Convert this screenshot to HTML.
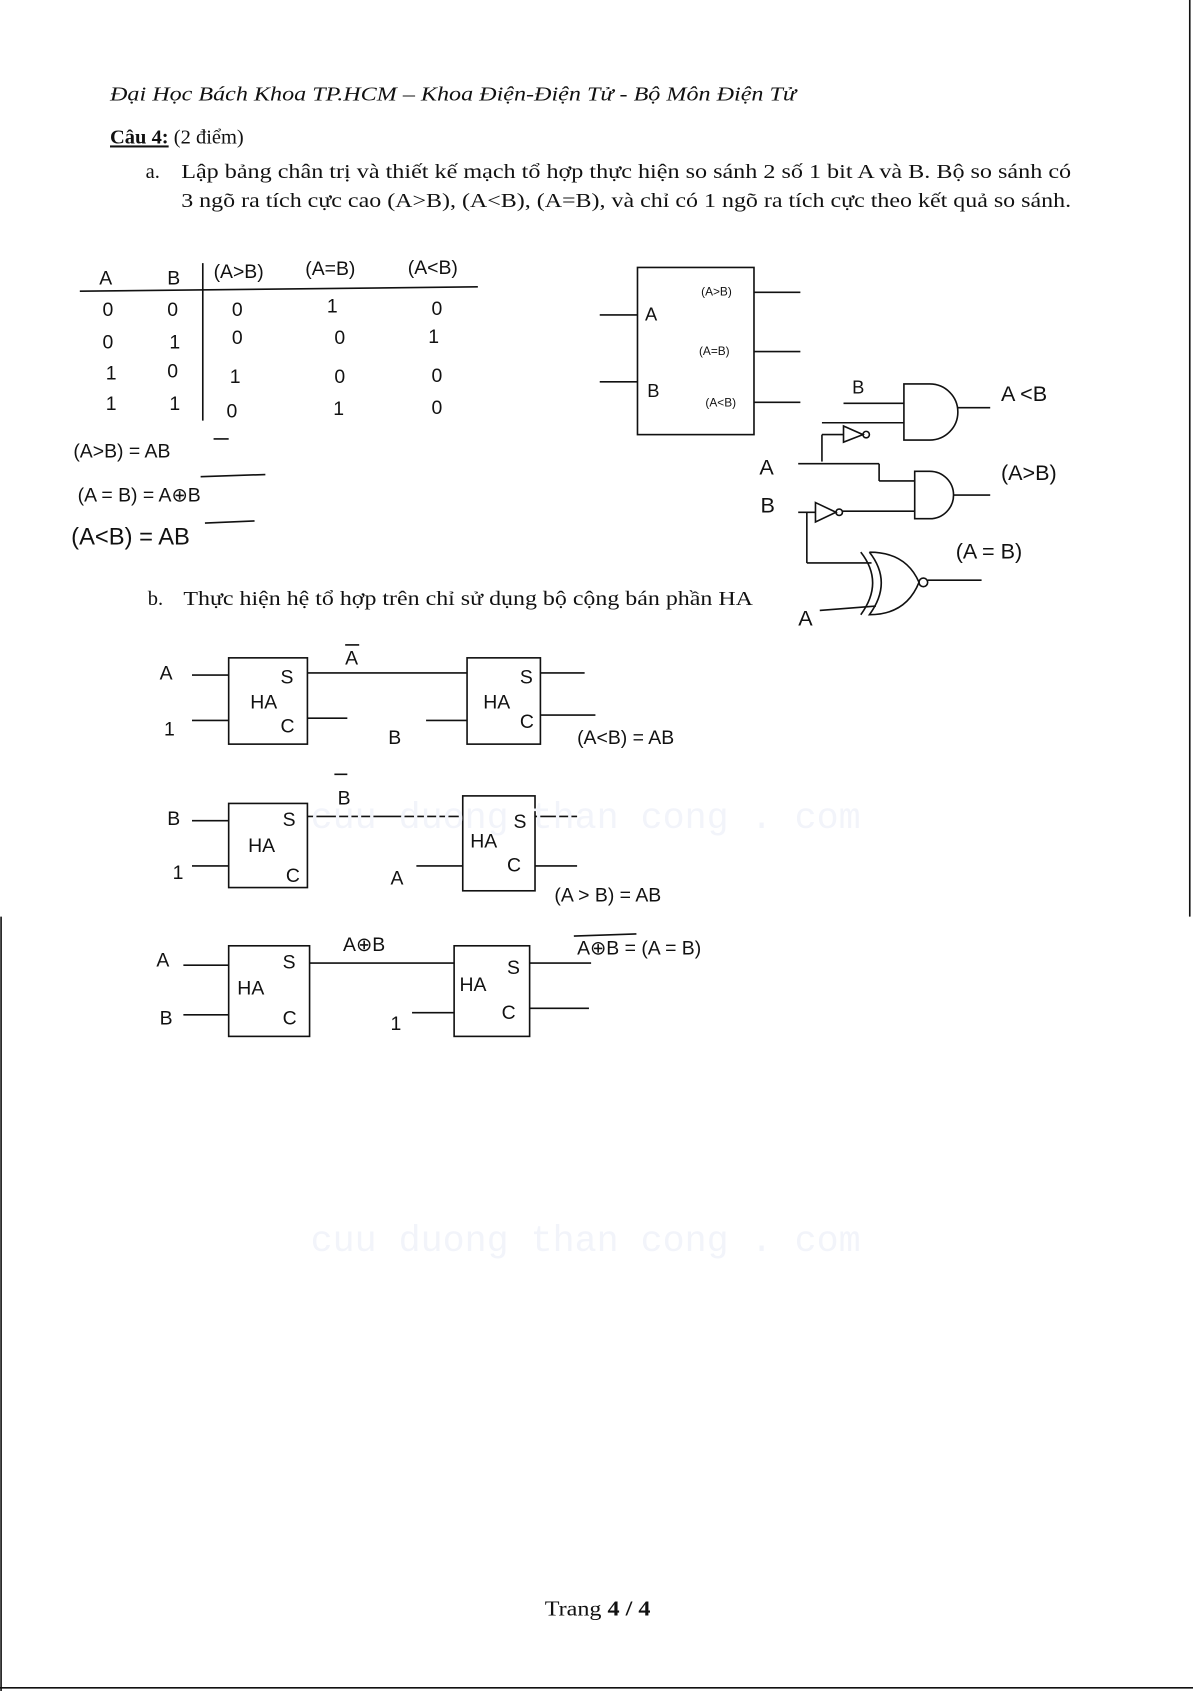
<!DOCTYPE html>
<html><head><meta charset="utf-8">
<style>
html,body{margin:0;padding:0;background:#fff;}
svg{display:block;}
.t{font-family:"Liberation Serif",serif;fill:#111;}
.h{font-family:"Liberation Sans",sans-serif;fill:#111;}
</style></head>
<body>
<svg width="1193" height="1691" viewBox="0 0 1106 1568" preserveAspectRatio="none" xmlns="http://www.w3.org/2000/svg">
<rect width="1106" height="1568" fill="#fff"/>
<g stroke="#111" stroke-width="1.5" fill="none">
<line x1="1103" y1="0" x2="1103" y2="850"/>
<line x1="1" y1="850" x2="1" y2="1568"/>
<line x1="0" y1="1565" x2="1106" y2="1565"/>
</g>
<text class="t" x="102" y="93" font-size="19" font-style="italic" textLength="636" lengthAdjust="spacingAndGlyphs">Đại Học Bách Khoa TP.HCM – Khoa Điện-Điện Tử - Bộ Môn Điện Tử</text>
<text class="t" x="102" y="133" font-size="19"><tspan font-weight="bold" text-decoration="underline">Câu 4:</tspan> (2 điểm)</text>
<text class="t" x="135" y="165" font-size="19">a.</text>
<text class="t" x="168" y="165" font-size="19" textLength="825" lengthAdjust="spacingAndGlyphs">Lập bảng chân trị và thiết kế mạch tổ hợp thực hiện so sánh 2 số 1 bit A và B. Bộ so sánh có</text>
<text class="t" x="168" y="192" font-size="19" textLength="825" lengthAdjust="spacingAndGlyphs">3 ngõ ra tích cực cao (A&gt;B), (A&lt;B), (A=B), và chỉ có 1 ngõ ra tích cực theo kết quả so sánh.</text>

<g class="h" font-size="18">
<text x="92" y="264">A</text><text x="155" y="264">B</text>
<text x="198" y="258">(A&gt;B)</text><text x="283" y="255">(A=B)</text><text x="378" y="254">(A&lt;B)</text>
<text x="95" y="293">0</text><text x="155" y="293">0</text><text x="215" y="293">0</text><text x="303" y="290">1</text><text x="400" y="292">0</text>
<text x="95" y="323">0</text><text x="157" y="323">1</text><text x="215" y="319">0</text><text x="310" y="319">0</text><text x="397" y="318">1</text>
<text x="98" y="352">1</text><text x="155" y="350">0</text><text x="213" y="355">1</text><text x="310" y="355">0</text><text x="400" y="354">0</text>
<text x="98" y="380">1</text><text x="157" y="380">1</text><text x="210" y="387">0</text><text x="309" y="385">1</text><text x="400" y="384">0</text>
<text x="68" y="424">(A&gt;B) = AB</text>
<text x="72" y="465">(A = B) = A⊕B</text>
<text x="66" y="505" font-size="22">(A&lt;B) = AB</text>
</g>
<g stroke="#111" stroke-width="1.5" fill="none">
<line x1="74" y1="270" x2="443" y2="266"/>
<line x1="188" y1="244" x2="188" y2="390"/>
<line x1="198" y1="407" x2="212" y2="407"/>
<line x1="186" y1="442" x2="246" y2="440"/>
<line x1="190" y1="485" x2="236" y2="483"/>
</g>

<g stroke="#111" stroke-width="1.5" fill="none">
<rect x="591" y="248" width="108" height="155"/>
<line x1="556" y1="292" x2="591" y2="292"/>
<line x1="556" y1="354" x2="591" y2="354"/>
<line x1="699" y1="271" x2="742" y2="271"/>
<line x1="699" y1="326" x2="742" y2="326"/>
<line x1="699" y1="373" x2="742" y2="373"/>
</g>
<g class="h" font-size="17"><text x="598" y="297">A</text><text x="600" y="368">B</text></g>
<g class="h" font-size="11"><text x="650" y="274">(A&gt;B)</text><text x="648" y="329">(A=B)</text><text x="654" y="377">(A&lt;B)</text></g>

<g stroke="#111" stroke-width="1.5" fill="none">
<path d="M838 356 L862 356 A26 26 0 0 1 862 408 L838 408 Z"/>
<line x1="888" y1="378" x2="918" y2="378"/>
<line x1="782" y1="374" x2="838" y2="374"/>
<line x1="762" y1="392" x2="838" y2="392"/>
<path d="M782 395 L800 403 L782 410 Z"/><circle cx="803" cy="403" r="3"/>
<line x1="762" y1="403" x2="782" y2="403"/>
<line x1="762" y1="403" x2="762" y2="428"/>
<line x1="740" y1="430" x2="815" y2="430"/>
<line x1="815" y1="430" x2="815" y2="446"/><line x1="815" y1="446" x2="848" y2="446"/>
<path d="M848 437 L862 437 A22 22 0 0 1 862 481 L848 481 Z"/>
<line x1="884" y1="459" x2="918" y2="459"/>
<line x1="740" y1="475" x2="756" y2="475"/>
<path d="M756 466 L775 475 L756 484 Z"/><circle cx="778" cy="475" r="3"/>
<line x1="781" y1="474" x2="848" y2="474"/>
<line x1="748" y1="475" x2="748" y2="522"/>
<line x1="748" y1="522" x2="808" y2="522"/>
<path d="M798 512 Q820 540 798 570"/>
<path d="M806 512 Q840 512 852 540 Q840 570 806 570 Q828 540 806 512"/>
<circle cx="856" cy="540" r="4"/>
<line x1="860" y1="538" x2="910" y2="538"/>
<line x1="760" y1="566" x2="812" y2="562"/>
</g>
<g class="h" font-size="20">
<text x="790" y="365" font-size="17">B</text>
<text x="928" y="372">A &lt;B</text>
<text x="704" y="440">A</text>
<text x="705" y="475">B</text>
<text x="928" y="445">(A&gt;B)</text>
<text x="886" y="518">(A = B)</text>
<text x="740" y="580">A</text>
</g>

<text class="t" x="137" y="561" font-size="19">b.</text>
<text class="t" x="170" y="561" font-size="19" textLength="528" lengthAdjust="spacingAndGlyphs">Thực hiện hệ tổ hợp trên chỉ sử dụng bộ cộng bán phần HA</text>

<g stroke="#111" stroke-width="1.5" fill="none">
<rect x="212" y="610" width="73" height="80"/><rect x="433" y="610" width="68" height="80"/>
<line x1="178" y1="626" x2="212" y2="626"/><line x1="178" y1="668" x2="212" y2="668"/>
<line x1="285" y1="624" x2="433" y2="624"/><line x1="285" y1="666" x2="322" y2="666"/>
<line x1="395" y1="668" x2="433" y2="668"/>
<line x1="501" y1="624" x2="542" y2="624"/><line x1="501" y1="663" x2="552" y2="663"/>
<line x1="320" y1="598" x2="333" y2="598"/>

<rect x="212" y="745" width="73" height="78"/><rect x="429" y="738" width="67" height="88"/>
<line x1="178" y1="761" x2="212" y2="761"/><line x1="178" y1="803" x2="212" y2="803"/>
<line x1="285" y1="757" x2="429" y2="757"/>
<line x1="386" y1="803" x2="429" y2="803"/>
<line x1="496" y1="757" x2="535" y2="757"/><line x1="496" y1="803" x2="535" y2="803"/>
<line x1="310" y1="718" x2="322" y2="718"/>

<rect x="212" y="877" width="75" height="84"/><rect x="421" y="877" width="70" height="84"/>
<line x1="170" y1="895" x2="212" y2="895"/><line x1="170" y1="941" x2="212" y2="941"/>
<line x1="287" y1="893" x2="421" y2="893"/>
<line x1="382" y1="939" x2="421" y2="939"/>
<line x1="491" y1="893" x2="548" y2="893"/><line x1="491" y1="935" x2="546" y2="935"/>
<line x1="532" y1="868" x2="590" y2="866"/>
</g>
<g class="h" font-size="18">
<text x="148" y="630">A</text><text x="152" y="682">1</text>
<text x="232" y="657">HA</text><text x="260" y="634">S</text><text x="260" y="679">C</text>
<text x="320" y="616">A</text>
<text x="360" y="690">B</text>
<text x="448" y="657">HA</text><text x="482" y="634">S</text><text x="482" y="675">C</text>
<text x="535" y="690">(A&lt;B) = AB</text>

<text x="155" y="765">B</text><text x="160" y="815">1</text>
<text x="230" y="790">HA</text><text x="262" y="766">S</text><text x="265" y="818">C</text>
<text x="313" y="746">B</text>
<text x="362" y="820">A</text>
<text x="436" y="786">HA</text><text x="476" y="768">S</text><text x="470" y="808">C</text>
<text x="514" y="836">(A &gt; B) = AB</text>

<text x="145" y="896">A</text><text x="148" y="950">B</text>
<text x="220" y="922">HA</text><text x="262" y="898">S</text><text x="262" y="950">C</text>
<text x="318" y="882">A⊕B</text>
<text x="362" y="955">1</text>
<text x="426" y="919">HA</text><text x="470" y="903">S</text><text x="465" y="945">C</text>
<text x="535" y="885">A⊕B = (A = B)</text>
</g>

<g font-family="Liberation Mono,monospace" font-size="34" fill="#f2f4fa">
<text x="288" y="768">cuu duong than cong . com</text>
<text x="288" y="1160">cuu duong than cong . com</text>
</g>
<text class="t" x="505" y="1498" font-size="20" textLength="98" lengthAdjust="spacingAndGlyphs">Trang <tspan font-weight="bold">4 / 4</tspan></text>
</svg>
</body></html>
